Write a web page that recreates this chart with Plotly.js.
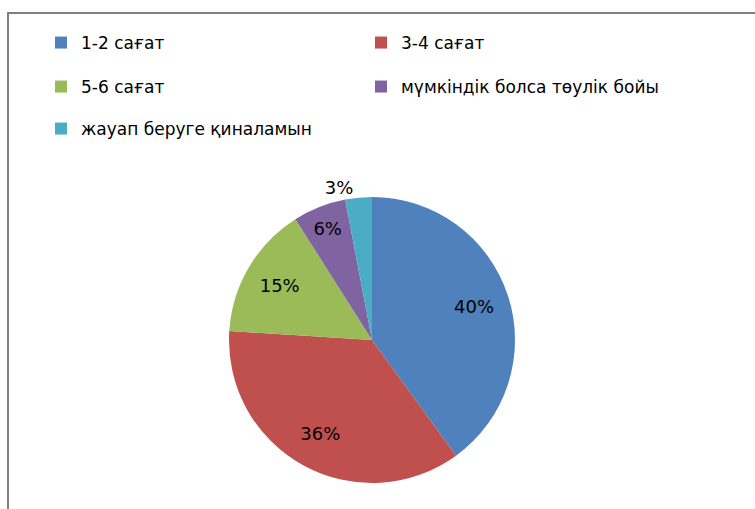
<!DOCTYPE html>
<html><head><meta charset="utf-8">
<script src="https://cdn.plot.ly/plotly-3.0.1.min.js"></script>
<style>html,body{margin:0;padding:0;background:#fff}#chart{width:755px;height:509px}</style>
</head><body><div id="chart"></div>
<script>
const categories = ['1-2 сағат','3-4 сағат','5-6 сағат','мүмкіндік болса төулік бойы','жауап беруге қиналамын'];
const values = [40, 36, 15, 6, 3];
const colors = ['#4F81BD','#C0504D','#9BBB59','#8064A2','#4BACC6'];
const labelPositions = ['inside','inside','inside','inside','outside'];

const W = 755, H = 509;
const font = 'DejaVu Sans, Liberation Sans, sans-serif';
const pieDomain = {x: [229/W, 515/W], y: [1-483/H, 1-197/H]};

const pie = {
  type: 'pie', labels: categories, values: values, sort: false,
  direction: 'clockwise', rotation: 0,
  marker: {colors: colors, line: {width: 0}},
  textinfo: 'none',
  hoverinfo: 'none', showlegend: false, domain: pieDomain
};
// transparent ring carrying the percentage labels (places them further out)
const labelRing = {
  type: 'pie', labels: categories, values: values, sort: false,
  direction: 'clockwise', rotation: 0, hole: 0.5,
  marker: {colors: colors.map(() => 'rgba(0,0,0,0)'), line: {width: 0}},
  texttemplate: '%{value}%', textposition: labelPositions,
  insidetextorientation: 'horizontal',
  textfont: {family: font, size: 18, color: '#000'},
  outsidetextfont: {family: font, size: 18, color: '#000'},
  hoverinfo: 'none', showlegend: false, domain: pieDomain
};

const legendPos = [[41,43],[361,43],[41,87],[361,87],[41,129]];
const legendTraces = categories.map((c,i) => ({
  type: 'scatter', mode: 'markers', x: [null], y: [null], name: c,
  marker: {symbol: 'square', size: 12, color: colors[i]},
  legend: i === 0 ? 'legend' : 'legend' + (i+1), hoverinfo: 'none'
}));

const layout = {
  width: W, height: H, margin: {l:0, r:0, t:0, b:0},
  paper_bgcolor: '#fff', plot_bgcolor: 'rgba(0,0,0,0)',
  xaxis: {visible: false}, yaxis: {visible: false},
  shapes: [{type: 'rect', xref: 'paper', yref: 'paper', x0: 8/W, x1: 1.05, y0: -0.1, y1: 1-13/H,
            line: {color: '#7f7f7f', width: 2}, fillcolor: 'rgba(0,0,0,0)'}]
};
legendPos.forEach((p,i) => {
  const key = i === 0 ? 'legend' : 'legend' + (i+1);
  layout[key] = {x: p[0]/W, y: 1-p[1]/H, xanchor: 'left', yanchor: 'middle',
    bgcolor: 'rgba(0,0,0,0)', borderwidth: 0, font: {family: font, size: 17, color: '#000'}};
});

Plotly.newPlot('chart', [pie, labelRing].concat(legendTraces), layout, {staticPlot: true});
</script></body></html>
